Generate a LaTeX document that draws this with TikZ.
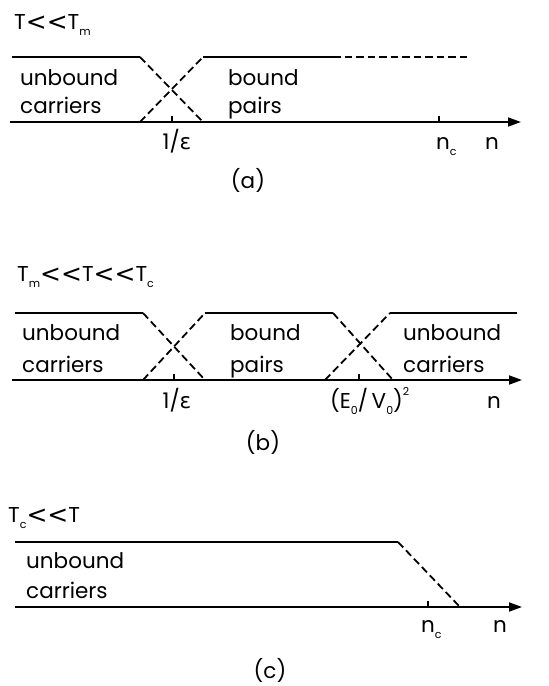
\documentclass[tikz,border=0pt]{standalone}
\usepackage{fontspec}
\setmainfont{Poppins}
\newfontfamily\grk{DejaVu Sans}
\usetikzlibrary{arrows.meta}
\newcommand{\mysub}[1]{\raisebox{-0.28em}{\fontsize{11}{11}\selectfont #1}}
\newcommand{\mysup}[1]{\raisebox{0.6em}{\fontsize{11}{11}\selectfont #1}}
\newcommand{\lt}{{\grk\fontsize{25}{25}\selectfont\raisebox{-0.06em}{<}}}
\begin{document}
\begin{tikzpicture}[x=1pt,y=-1pt,
  solidl/.style={line width=1.8pt},
  dashl/.style={line width=1.8pt, dash pattern=on 7.5pt off 4pt},
  axisl/.style={line width=1.8pt, -{Triangle[length=13pt,width=9pt]}},
  lbl/.style={font=\fontsize{21.5}{21.5}\selectfont, anchor=base west, inner sep=0pt},
  captxt/.style={font=\fontsize{21.5}{21.5}\selectfont, anchor=base, inner sep=0pt}]
\useasboundingbox (0,0) rectangle (549,686);

% ---------- panel (a)
\coordinate (a0) at (10,122);
\coordinate (a1) at (521,122);
\draw[axisl] (a0) -- (a1);
\draw[solidl] (12,57) -- (140,57);
\draw[dashl] (140,57) -- (203,122);
\draw[dashl] (140,122) -- (203,57);
\draw[solidl] (203,57) -- (333,57);
\draw[dashl] (333,57) -- (470,57);
\draw[solidl] (172,122) -- (172,116);
\draw[solidl] (439,122) -- (439,116);
\node[lbl] (ta) at (14,29) {T\lt\lt T\mysub{m}};
\node[lbl] (ua1) at (20,85) {unbound};
\node[lbl] (ua2) at (20,113) {carriers};
\node[lbl] (ba1) at (228,85) {bound};
\node[lbl] (ba2) at (228,113) {pairs};
\node[captxt] (ea) at (177,149) {1/{\grk ε}};
\node[lbl] (nca) at (436,149) {n\mysub{c}};
\node[lbl] (na) at (485,149) {n};
\node[captxt] (la) at (248,188) {(a)};

% ---------- panel (b)
\coordinate (b0) at (12,380);
\coordinate (b1) at (522,380);
\draw[axisl] (b0) -- (b1);
\draw[solidl] (15,313) -- (143,313);
\draw[dashl] (143,313) -- (205,380);
\draw[dashl] (143,380) -- (205,313);
\draw[solidl] (205,313) -- (333,313);
\draw[dashl] (333,313) -- (393,380);
\draw[dashl] (325,380) -- (390,313);
\draw[solidl] (390,313) -- (517,313);
\draw[solidl] (174,380) -- (174,374);
\draw[solidl] (359,380) -- (359,374);
\node[lbl] (tb) at (17,281) {T\mysub{m}\lt\lt T\lt\lt T\mysub{c}};
\node[lbl] (ub1) at (22,340) {unbound};
\node[lbl] (ub2) at (22,372) {carriers};
\node[lbl] (bb1) at (230,340) {bound};
\node[lbl] (bb2) at (230,372) {pairs};
\node[lbl] (ub3) at (403,340) {unbound};
\node[lbl] (ub4) at (403,372) {carriers};
\node[captxt] (eb) at (177,408) {1/{\grk ε}};
\node[lbl] (evb) at (330,408) {(E\mysub{0}/\,V\mysub{0})\mysup{2}};
\node[lbl] (nb) at (487,408) {n};
\node[captxt] (lb) at (263,450) {(b)};

% ---------- panel (c)
\coordinate (c0) at (15,607);
\coordinate (c1) at (522,607);
\draw[axisl] (c0) -- (c1);
\draw[solidl] (15,542) -- (398,542);
\draw[dashl] (398,542) -- (460,607);
\draw[solidl] (428,607) -- (428,601);
\node[lbl] (tc) at (8,522) {T\mysub{c}\lt\lt T};
\node[lbl] (uc1) at (26,568) {unbound};
\node[lbl] (uc2) at (26,598) {carriers};
\node[lbl] (ncc) at (421,632) {n\mysub{c}};
\node[lbl] (nc) at (493,632) {n};
\node[captxt] (lc) at (270,678) {(c)};
\end{tikzpicture}
\end{document}
